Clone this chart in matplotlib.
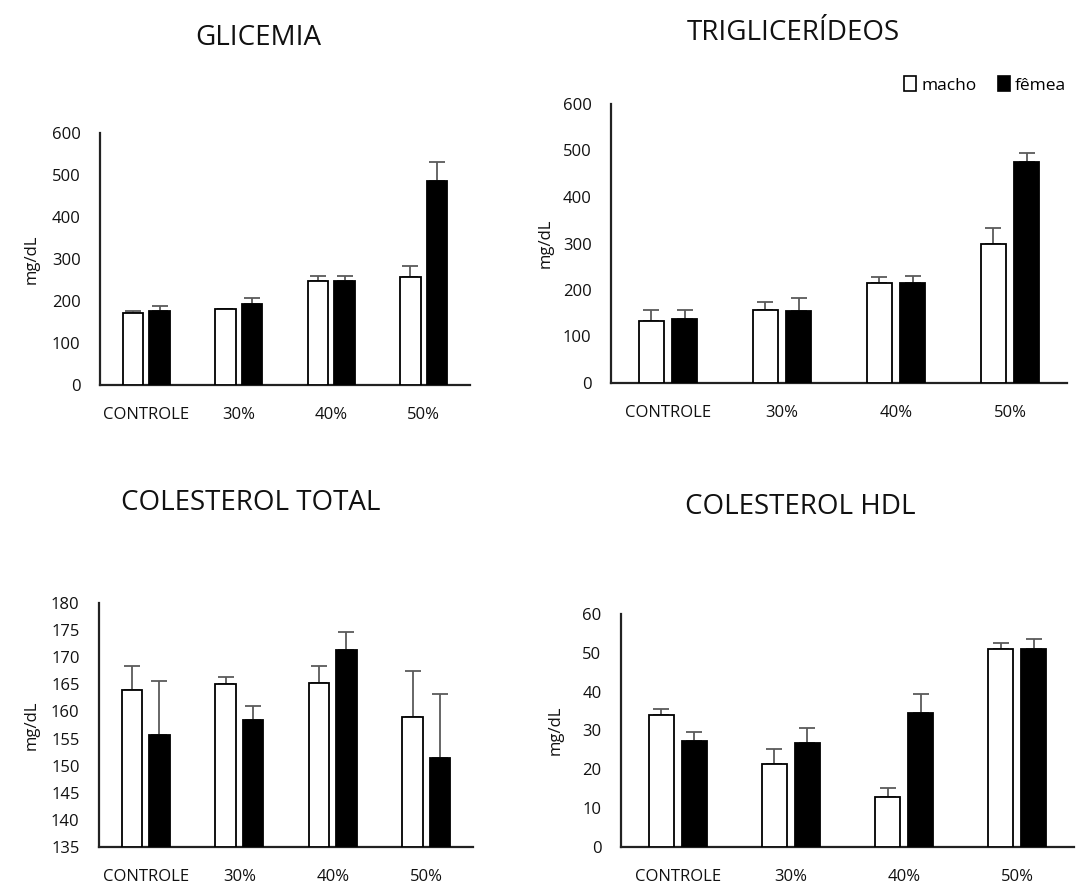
import matplotlib
matplotlib.use("Agg")
import matplotlib.pyplot as plt
import numpy as np
from matplotlib.patches import Patch

plt.rcParams['font.family'] = ['Open Sans', 'DejaVu Sans']

categories = ["CONTROLE", "30%", "40%", "50%"]
series_names = ["macho", "fêmea"]

glic_macho = [172, 180, 248, 257]
glic_macho_err = [4, 1, 12, 27]
glic_femea = [177, 194, 248, 486]
glic_femea_err = [12, 13, 12, 44]

trig_macho = [134, 158, 215, 300]
trig_macho_err = [24, 16, 12, 33]
trig_femea = [138, 155, 215, 475]
trig_femea_err = [20, 27, 15, 19]

colt_macho = [164.0, 165.0, 165.3, 159.0]
colt_macho_err = [4.4, 1.3, 3.1, 8.4]
colt_femea = [155.6, 158.5, 171.3, 151.4]
colt_femea_err = [10.1, 2.5, 3.4, 11.8]

hdl_macho = [34.0, 21.4, 13.0, 51.0]
hdl_macho_err = [1.5, 3.8, 2.1, 1.5]
hdl_femea = [27.4, 26.9, 34.6, 51.1]
hdl_femea_err = [2.2, 3.7, 4.7, 2.4]

W, H = 1076, 884
fig = plt.figure(figsize=(W / 100, H / 100), dpi=100)

def add_ax(left, top, right, bottom):
    return fig.add_axes([left / W, 1 - bottom / H, (right - left) / W, (bottom - top) / H])

panels = [
    dict(title="GLICEMIA", box=(100, 133, 470, 385), ylim=(0, 600), ticks=np.arange(0, 601, 100),
         m=glic_macho, me=glic_macho_err, f=glic_femea, fe=glic_femea_err, tx=258, ty=38, ylx=32),
    dict(title="TRIGLICERÍDEOS", box=(611, 104, 1067, 383), ylim=(0, 600), ticks=np.arange(0, 601, 100),
         m=trig_macho, me=trig_macho_err, f=trig_femea, fe=trig_femea_err, tx=793, ty=33, ylx=546),
    dict(title="COLESTEROL TOTAL", box=(99, 603, 473, 847), ylim=(135, 180), ticks=np.arange(135, 181, 5),
         m=colt_macho, me=colt_macho_err, f=colt_femea, fe=colt_femea_err, tx=251, ty=503, ylx=32),
    dict(title="COLESTEROL HDL", box=(621, 614, 1074, 847), ylim=(0, 60), ticks=np.arange(0, 61, 10),
         m=hdl_macho, me=hdl_macho_err, f=hdl_femea, fe=hdl_femea_err, tx=800, ty=507, ylx=556),
]

x = np.arange(len(categories))
bw = 0.22
off = 0.145
ecol = "#5a5a5a"
tcol = "#111111"

for p in panels:
    ax = add_ax(*p["box"])
    base = p["ylim"][0]
    mh = np.array(p["m"]) - base
    fh = np.array(p["f"]) - base
    ax.bar(x - off, mh, bw, bottom=base, color="white", edgecolor="black", linewidth=1.3, zorder=3)
    ax.bar(x + off, fh, bw, bottom=base, color="black", edgecolor="black", linewidth=1.3, zorder=3)
    ax.errorbar(x - off, p["m"], yerr=[np.zeros(4), p["me"]], fmt="none", ecolor=ecol,
                elinewidth=1.3, capsize=6, capthick=1.3, zorder=2)
    ax.errorbar(x + off, p["f"], yerr=[np.zeros(4), p["fe"]], fmt="none", ecolor=ecol,
                elinewidth=1.3, capsize=6, capthick=1.3, zorder=2)
    ax.set_xlim(-0.5, 3.5)
    ax.set_ylim(*p["ylim"])
    ax.set_yticks(p["ticks"])
    ax.set_xticks(x)
    ax.set_xticklabels(categories)
    ax.tick_params(axis="both", length=0, labelsize=12, colors=tcol)
    ax.tick_params(axis="x", pad=16)
    ax.tick_params(axis="y", pad=14)
    for s in ["top", "right"]:
        ax.spines[s].set_visible(False)
    for s in ["left", "bottom"]:
        ax.spines[s].set_linewidth(1.6)
        ax.spines[s].set_color("#222222")
    ax.set_facecolor("none")
    fig.text(p["ylx"] / W, 1 - ((p["box"][1] + p["box"][3]) / 2) / H, "mg/dL", rotation=90,
             ha="center", va="center", fontsize=12, color=tcol)
    fig.text(p["tx"] / W, 1 - p["ty"] / H, p["title"], ha="center", va="center",
             fontsize=20, color=tcol)
    if p["title"] == "TRIGLICERÍDEOS":
        handles = [Patch(facecolor="white", edgecolor="black", linewidth=1.2),
                   Patch(facecolor="black", edgecolor="black", linewidth=1.2)]
        fig.legend(handles, series_names, loc="center right",
                   bbox_to_anchor=(1066 / W, 1 - 85 / H), ncol=2, frameon=False,
                   fontsize=12.5, handlelength=0.7, handleheight=0.9, handletextpad=0.3,
                   columnspacing=1.2, borderaxespad=0, borderpad=0)

fig.savefig("out.png", dpi=100)
